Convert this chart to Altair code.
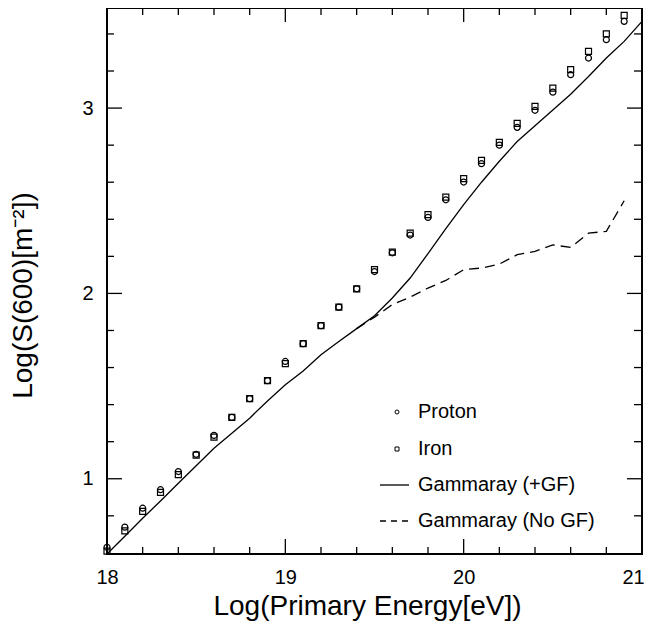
import altair as alt
import pandas as pd

# ---- data ----
energy = [18.0, 18.1, 18.2, 18.3, 18.4, 18.5, 18.6, 18.7, 18.8, 18.9,
          19.0, 19.1, 19.2, 19.3, 19.4, 19.5, 19.6, 19.7, 19.8, 19.9,
          20.0, 20.1, 20.2, 20.3, 20.4, 20.5, 20.6, 20.7, 20.8, 20.9]
proton = [0.63, 0.739, 0.841, 0.941, 1.039, 1.132, 1.234, 1.331, 1.432, 1.529,
          1.633, 1.729, 1.826, 1.926, 2.025, 2.118, 2.219, 2.315, 2.41, 2.505,
          2.601, 2.70, 2.80, 2.896, 2.988, 3.086, 3.18, 3.27, 3.369, 3.468]
iron = [0.61, 0.719, 0.824, 0.926, 1.022, 1.128, 1.225, 1.331, 1.432, 1.529,
        1.621, 1.729, 1.826, 1.926, 2.025, 2.128, 2.223, 2.325, 2.425, 2.52,
        2.619, 2.718, 2.815, 2.917, 3.009, 3.108, 3.207, 3.306, 3.40, 3.50]

gf_energy = [18.0, 18.1, 18.2, 18.3, 18.4, 18.5, 18.6, 18.7, 18.8, 18.9,
             19.0, 19.1, 19.2, 19.3, 19.4, 19.5, 19.6, 19.7, 19.8, 19.9,
             20.0, 20.1, 20.2, 20.3, 20.4, 20.5, 20.6, 20.7, 20.8, 20.9, 21.0]
gf_plus = [0.594, 0.69, 0.787, 0.88, 0.976, 1.07, 1.165, 1.245, 1.327, 1.42,
           1.507, 1.581, 1.669, 1.741, 1.81, 1.88, 1.975, 2.083, 2.215, 2.35,
           2.479, 2.60, 2.713, 2.82, 2.905, 2.99, 3.075, 3.17, 3.27, 3.36, 3.468]

nogf_energy = [19.4, 19.5, 19.6, 19.7, 19.8, 19.9, 20.0, 20.1, 20.2, 20.3,
               20.4, 20.5, 20.6, 20.7, 20.8, 20.9]
nogf = [1.81, 1.872, 1.94, 1.98, 2.029, 2.07, 2.128, 2.137, 2.158, 2.209,
        2.227, 2.262, 2.248, 2.325, 2.335, 2.5]

x_major = [19, 20]
x_minor = [18.2, 18.4, 18.6, 18.8, 19.2, 19.4, 19.6, 19.8, 20.2, 20.4, 20.6, 20.8]
y_major = [1, 2, 3]
y_minor = [0.8, 1.2, 1.4, 1.6, 1.8, 2.2, 2.4, 2.6, 2.8, 3.2, 3.4]
x_labels = [18, 19, 20, 21]
y_labels = [1, 2, 3]

legend_labels = ["Proton", "Iron", "Gammaray (+GF)", "Gammaray (No GF)"]

# ---- layout ----
W, H = 535, 546
FONT = "Liberation Sans"

xs = alt.Scale(domain=[18, 21], nice=False, zero=False)
ys = alt.Scale(domain=[0.594, 3.54], nice=False, zero=False)

xaxis = alt.Axis(values=x_labels, title="Log(Primary Energy[eV])", ticks=False,
                 domain=False, grid=False, labelFontSize=20, labelPadding=13,
                 labelOffset={"condition": {"test": "datum.value == 21", "value": -9}, "value": 0},
                 labelFont=FONT, titleFont=FONT, titleFontSize=28,
                 titleFontWeight="normal", titleBaseline="alphabetic",
                 titleX=260, titleY=60, labelColor="black", titleColor="black",
                 labelFlush=False)
yaxis = alt.Axis(values=y_labels, title="Log(S(600)[m⁻²])", ticks=False,
                 domain=False, grid=False, labelFontSize=20, labelPadding=14,
                 labelFont=FONT, titleFont=FONT, titleFontSize=28,
                 titleFontWeight="normal", titleBaseline="middle", titleAngle=-90,
                 titleAlign="center", titleX=-84, titleY=287,
                 labelColor="black", titleColor="black", labelFlush=False)

X = alt.X("e:Q", scale=xs, axis=xaxis)
Y = alt.Y("v:Q", scale=ys, axis=yaxis)

pts_p = pd.DataFrame({"e": energy, "v": proton})
pts_i = pd.DataFrame({"e": energy, "v": iron})
line_gf = pd.DataFrame({"e": gf_energy, "v": gf_plus})
line_ng = pd.DataFrame({"e": nogf_energy, "v": nogf})

proton_layer = alt.Chart(pts_p).mark_point(shape="circle", size=36, filled=False,
                                           color="black", strokeWidth=1.2, opacity=1).encode(x=X, y=Y)
iron_layer = alt.Chart(pts_i).mark_point(shape="square", size=36, filled=False,
                                         color="black", strokeWidth=1.2, opacity=1).encode(x=X, y=Y)
gf_layer = alt.Chart(line_gf).mark_line(color="black", strokeWidth=1.3).encode(x=X, y=Y)
ng_layer = alt.Chart(line_ng).mark_line(color="black", strokeWidth=1.3,
                                        strokeDash=[10, 6]).encode(x=X, y=Y)

# inward ticks on all four sides
xmaj = pd.DataFrame({"e": x_major})
xmin = pd.DataFrame({"e": x_minor})
ymaj = pd.DataFrame({"v": y_major})
ymin = pd.DataFrame({"v": y_minor})
TW = 1.3
ticks = [
    alt.Chart(xmaj).mark_rule(color="black", strokeWidth=TW).encode(x=X, y=alt.value(H), y2=alt.value(H - 15)),
    alt.Chart(xmin).mark_rule(color="black", strokeWidth=TW).encode(x=X, y=alt.value(H), y2=alt.value(H - 7)),
    alt.Chart(xmaj).mark_rule(color="black", strokeWidth=TW).encode(x=X, y=alt.value(0), y2=alt.value(14)),
    alt.Chart(xmin).mark_rule(color="black", strokeWidth=TW).encode(x=X, y=alt.value(0), y2=alt.value(7)),
    alt.Chart(ymaj).mark_rule(color="black", strokeWidth=TW).encode(y=Y, x=alt.value(0), x2=alt.value(15)),
    alt.Chart(ymin).mark_rule(color="black", strokeWidth=TW).encode(y=Y, x=alt.value(0), x2=alt.value(7)),
    alt.Chart(ymaj).mark_rule(color="black", strokeWidth=TW).encode(y=Y, x=alt.value(W), x2=alt.value(W - 15)),
    alt.Chart(ymin).mark_rule(color="black", strokeWidth=TW).encode(y=Y, x=alt.value(W), x2=alt.value(W - 8)),
]

# manual legend (positions relative to the plot area)
one = pd.DataFrame({"k": [0]})
LX_MARK, LX_TEXT, LX0, LX1 = 290, 311, 273, 302
rows = [404, 441, 477, 513]
legend = [
    alt.Chart(one).mark_point(shape="circle", size=16, filled=False, color="black",
                              strokeWidth=1, opacity=1).encode(x=alt.value(LX_MARK), y=alt.value(rows[0])),
    alt.Chart(one).mark_point(shape="square", size=16, filled=False, color="black",
                              strokeWidth=1, opacity=1).encode(x=alt.value(LX_MARK), y=alt.value(rows[1])),
    alt.Chart(one).mark_rule(color="black", strokeWidth=1.3).encode(
        x=alt.value(LX0), x2=alt.value(LX1), y=alt.value(rows[2])),
    alt.Chart(one).mark_rule(color="black", strokeWidth=1.3, strokeDash=[6, 5]).encode(
        x=alt.value(LX0), x2=alt.value(LX1), y=alt.value(rows[3])),
]
for lab, ry in zip(legend_labels, rows):
    legend.append(
        alt.Chart(pd.DataFrame({"label": [lab]})).mark_text(
            align="left", baseline="middle", font=FONT, fontSize=20, color="black"
        ).encode(text="label:N", x=alt.value(LX_TEXT), y=alt.value(ry))
    )

chart = alt.layer(
    gf_layer, ng_layer, proton_layer, iron_layer, *ticks, *legend
).properties(
    width=W, height=H,
    autosize=alt.AutoSizeParams(type="none"),
    padding={"left": 99, "top": 0, "right": 2, "bottom": 68},
    background="white",
).configure_view(stroke="black", strokeWidth=2)

chart.save("out.html", embed_options={"renderer": "svg", "actions": False})
